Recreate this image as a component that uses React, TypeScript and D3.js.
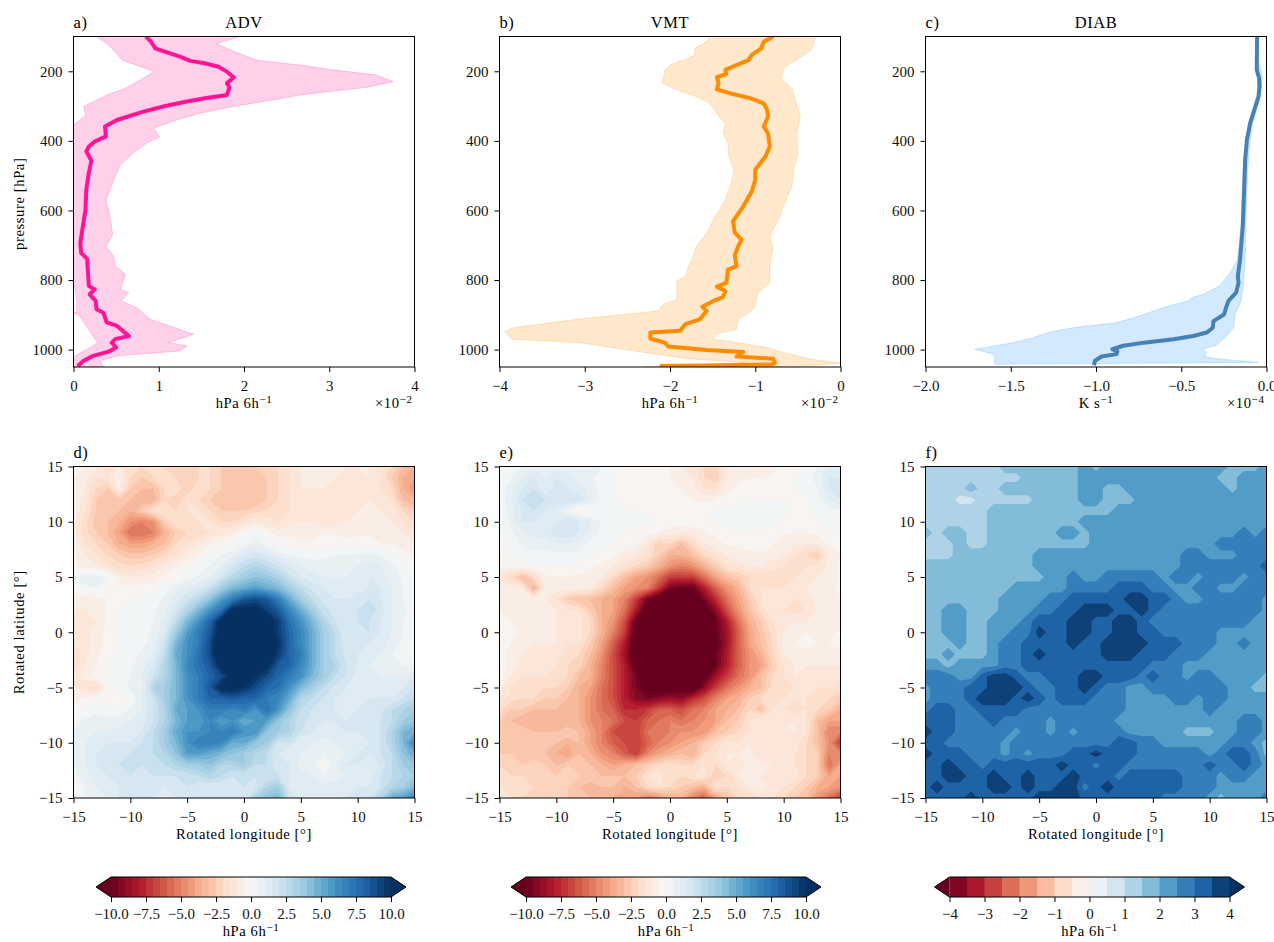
import React, { useRef, useEffect } from 'react';
import * as d3 from 'd3';

const pressureTicks = [200, 400, 600, 800, 1000];
const lonLatTicks = [-15, -10, -5, 0, 5, 10, 15];

const advMean = [[100,.85],[115,.91],[134,.96],[144,1.08],[158,1.25],[170,1.37],[177,1.54],[187,1.70],[201,1.80],[218,1.88],[234,1.80],[246,1.83],[268,1.80],[277,1.56],[287,1.33],[299,1.09],[316,.82],[340,.51],[359,.37],[387,.38],[402,.25],[416,.18],[430,.15],[457,.21],[492,.18],[540,.15],[600,.14],[645,.11],[693,.08],[722,.09],[739,.16],[779,.17],[817,.18],[827,.25],[841,.19],[860,.26],[884,.27],[894,.35],[922,.39],[932,.51],[961,.65],[970,.49],[980,.45],[994,.50],[1006,.41],[1018,.23],[1032,.12],[1047,.05]];
const advHigh = [[100,1.95],[120,1.68],[139,1.84],[168,2.15],[182,2.66],[196,3.05],[211,3.56],[230,3.75],[246,3.44],[268,2.66],[282,2.35],[301,1.88],[320,1.49],[340,1.21],[363,.94],[389,1.01],[406,.86],[435,.70],[469,.55],[502,.49],[569,.38],[607,.42],[669,.46],[703,.38],[731,.47],[760,.49],[784,.61],[827,.55],[836,.65],[860,.56],[879,.74],[913,.90],[956,1.41],[980,1.11],[989,1.33],[1004,1.25],[1018,.51],[1032,.31],[1050,.35]];
const advLow = [[100,.27],[120,.39],[144,.49],[168,.57],[200,.95],[225,.78],[249,.61],[268,.39],[301,.12],[325,.14],[340,.08],[354,0],[400,-.1],[700,-.1],[790,-.02],[827,.02],[860,.04],[893,.04],[894,0],[903,.07],[951,.20],[980,.28],[999,.16],[1018,.02],[1032,0],[1050,-.05]];

const vmtMean = [[100,-.79],[115,-.90],[134,-.93],[153,-1.04],[168,-1.08],[182,-1.22],[196,-1.35],[208,-1.34],[217,-1.45],[234,-1.43],[252,-1.45],[263,-1.30],[277,-1.06],[292,-.90],[311,-.86],[330,-.85],[359,-.90],[378,-.85],[416,-.83],[445,-.88],[483,-1.00],[512,-1.00],[545,-1.04],[588,-1.14],[631,-1.26],[664,-1.24],[684,-1.16],[703,-1.20],[729,-1.24],[760,-1.22],[770,-1.32],[808,-1.34],[819,-1.45],[832,-1.35],[849,-1.38],[860,-1.49],[877,-1.62],[889,-1.57],[913,-1.65],[927,-1.82],[946,-1.88],[951,-2.23],[968,-2.23],[980,-2.06],[991,-2.02],[1001,-1.57],[1007,-1.14],[1020,-1.22],[1026,-.79],[1037,-.77],[1042,-.79],[1045,-1.37],[1047,-2.12]];
const vmtLow = [[100,-1.53],[115,-1.57],[134,-1.71],[153,-1.71],[168,-1.84],[182,-2.0],[196,-2.06],[234,-2.09],[249,-1.96],[273,-1.69],[292,-1.53],[320,-1.45],[354,-1.35],[378,-1.38],[406,-1.32],[445,-1.31],[483,-1.25],[521,-1.28],[569,-1.35],[617,-1.47],[664,-1.57],[703,-1.69],[736,-1.73],[760,-1.78],[789,-1.82],[803,-1.92],[856,-1.92],[870,-2.08],[889,-2.14],[913,-3.10],[937,-3.84],[949,-3.94],[970,-3.85],[980,-3.06],[999,-2.55],[1026,-1.80],[1037,-1.10],[1049,-2.3]];
const vmtHigh = [[100,-.29],[139,-.34],[163,-.49],[187,-.65],[220,-.70],[249,-.57],[282,-.53],[330,-.47],[378,-.51],[435,-.50],[483,-.55],[531,-.57],[588,-.67],[626,-.73],[674,-.83],[707,-.79],[760,-.83],[808,-.83],[836,-.96],[884,-1.02],[913,-1.20],[942,-1.22],[954,-1.45],[970,-1.49],[980,-1.20],[994,-.86],[1008,-.67],[1027,-.36],[1039,0],[1049,-.5]];

const diabMean = [[100,-.055],[177,-.057],[196,-.057],[220,-.043],[244,-.041],[273,-.047],[349,-.096],[397,-.115],[454,-.125],[540,-.131],[645,-.139],[741,-.155],[789,-.168],[808,-.164],[836,-.178],[860,-.223],[879,-.237],[899,-.249],[918,-.311],[937,-.315],[951,-.35],[961,-.43],[970,-.546],[980,-.72],[989,-.84],[999,-.904],[1004,-.875],[1013,-.879],[1020,-.967],[1032,-1.006],[1045,-1.012]];
const diabLow = [[100,-.06],[177,-.065],[220,-.05],[273,-.055],[349,-.105],[454,-.135],[645,-.15],[741,-.17],[779,-.213],[817,-.276],[841,-.37],[849,-.43],[860,-.458],[879,-.605],[908,-.771],[922,-.879],[937,-1.133],[948,-1.254],[965,-1.368],[980,-1.485],[999,-1.71],[1013,-1.603],[1023,-1.593],[1042,-1.593]];
const diabHigh = [[100,-.05],[177,-.043],[206,-.027],[244,-.027],[273,-.037],[349,-.08],[397,-.096],[454,-.106],[540,-.115],[645,-.121],[741,-.125],[808,-.135],[860,-.149],[899,-.184],[937,-.194],[965,-.243],[989,-.301],[999,-.38],[1008,-.35],[1020,-.364],[1026,-.292],[1037,-.047]];

// rows run lat 15 -> -15, columns lon -15 -> 15, every degree
const advField = [
  [-.5,-.5,-.8,-2,-.8, -2,-2,-1.5,-2,-2.5, -2.2,-2,-2,-2.5,-3, -3,-2.5,-2.5,-2,-1.5, -1,-.6,-.5,-.8,-1, -1,-1,-1.2,-2,-3, -3.5],
  [-.5,-.8,-1.5,-1.5,-.5, -2,-2.5,-2,-1.8,-2, -2.5,-2,-2,-2.5,-3, -3,-3,-2.5,-2,-1.5, -1,-.6,-.6,-1,-1.2, -1.2,-1,-1.5,-2.5,-3.5, -4],
  [-.5,-1,-2,-2.5,-.8, -2.5,-3,-3,-2,-1.5, -2.5,-1.5,-2,-2.5,-3, -3,-3,-2.5,-2,-1.5, -1,-1,-1,-1.2,-1.2, -1.2,-1,-1.5,-2,-3.5, -4.5],
  [-.5,-1.2,-2.5,-3,-2.5, -3,-3.5,-3.5,-2,-2.5, -1.5,-2,-2.5,-3,-3, -3,-3,-2.5,-2,-1.5, -1.2,-1.2,-1.2,-1.5,-1.5, -1.2,-1,-1.2,-1.5,-3, -3.5],
  [-.5,-1.5,-2.5,-3,-3, -3.5,-2.5,-1.5,-1.5,-2, -1.5,-1.5,-2,-2.5,-2.5, -2.5,-2.2,-2,-2,-1.5, -1.2,-1.2,-1,-1.5,-1.2, -1,-1,-1,-1.2,-2, -2.5],
  [-.8,-1.8,-2.8,-3,-3.5, -4.5,-5,-4.5,-2.5,-1.5, -2,-1.5,-1.5,-2,-2, -1.5,-1,-1.2,-1.5,-1.2, -1,-1,-1.2,-1.2,-1, -.8,-.8,-1,-1,-1.5, -2],
  [-.8,-1.8,-2.5,-3,-4, -5.5,-5.5,-5,-3.5,-2.5, -2,-1.8,-1.5,-1.2,-.8, -.2,.3,-.3,-.8,-.6, -.8,-.8,-.5,-.5,-.8, -.6,-.6,-.8,-.8,-1, -1.5],
  [-.5,-1.5,-2,-2.5,-3.5, -4,-4,-3.5,-3,-2, -1.5,-1,-.5,-.3,0, .3,.8,.3,-.1,-.3, -.4,-.3,-.3,0,-.2, -.2,-.2,-.5,-.5,-.8, -1],
  [-.4,-1,-1.5,-2,-2.5, -2.8,-2.8,-2.5,-2,-1.5, -.8,-.5,0,.5,.8, 1.5,1.8,1.5,.8,.5, .3,.3,.3,.5,.5, .6,.7,.5,.2,-.3, -.6],
  [-.3,-.8,-1,-1.5,-1.8, -2,-1.8,-1.5,-1,-.5, -.2,.2,.5,1,1.8, 2.5,3,2.5,2,1.5, 1,.8,.8,.8,.8, 1,1.2,1,.6,.2, -.1],
  [.5,1,.8,.5,-.8, -1,-1,-.8,-.4,-.2, .2,.6,1,1.8,2.8, 3.5,4,3.8,3.2,2.2, 1.5,1.2,1,1,1, 1.2,1.5,1.2,.8,.4, 0],
  [-.3,.3,.5,-.2,-.5, -.3,-.2,-.1,.3,.8, 1.2,1.5,2.2,3.5,4.5, 5,5.5,5,4.5,3.5, 2.5,1.8,1.5,1.2,1.2, 1.2,1.5,1.5,1,.5, .2],
  [-.6,-.8,-.8,-.4,-.1, 0,0,.2,.6,1.2, 2,2.8,4,5.5,7, 8.5,9,8.5,7,5, 3.5,2.5,1.8,1.5,1.5, 1.8,2,1.5,1,.5, .2],
  [-1,-1,-1,-.4,0, .1,.1,.4,.8,1.8, 3,4.5,6,7.5,10.5, 10.5,10.5,9.5,8.5,6.5, 5,3.5,2.2,1.8,1.5, 2,2.5,1.8,1,.6, .3],
  [-1.2,-1.2,-1,-.4,0, .2,.2,.5,1.2,2.5, 4.5,6,8,10.5,11, 11,11,11,9.5,7.5, 6,4.5,3,2,1.5, 2,2,1.5,1,.5, .1],
  [-1.2,-1.2,-.8,-.3,0, .2,.3,.6,1.5,3.5, 5.5,7,8.5,11,12, 12,12,11,9.5,8, 6.5,5,3.5,2.5,1.5, 1.5,2,1.5,1,.5, 0],
  [-1.5,-1.2,-.8,-.3,0, .2,.3,.8,2,4.5, 6,7,9,11.5,12, 12,12,11,10,8, 6.5,5,3.5,2.5,1.5, 1.5,1.5,1.2,.8,.4, -.2],
  [-1.8,-1.2,-.6,-.2,.1, .3,.6,1,2.5,5, 6,7.5,9,11.5,12, 12,12,11,9.5,8, 7,5,3.5,2.5,1.8, 1.5,1.2,1,.5,.3, -.1],
  [-2,-1,-.5,0,.2, .4,.8,1.5,3,4.5, 6.5,7.5,8.5,10.5,12, 12,11.5,10.5,8.5,8, 6.5,5,3.5,3,2, 1.5,1,.8,.6,.5, .5],
  [-1.2,-.8,-.3,0,.3, .5,1,2,3,4.5, 6,7,8,9,10.5, 10.5,10,9,8,7, 6,4.5,3.5,2.5,2, 1.2,1,1,1,1, 1.5],
  [-.9,-1.5,-1.8,-.3,.2, .6,.8,3,3.5,4.5, 6,7,8.5,10.5,10.5, 10,9,8,7.5,6, 4.5,3.5,2.5,1.8,1.5, 1,1,1,1.2,1.5, 2],
  [-.8,-.4,-.2,-.2,-.5, 0,1,2,3.5,4.5, 6,7,8,8,8.5, 8,8,7,6.5,5, 3,2.5,2,1.5,1.2, 1.2,1.5,1.5,1.5,2, 2.5],
  [-.2,0,.3,.3,.1, .5,1,2,3,5, 5.5,6,7,7,6.5, 7,6,7.5,6,4, 2.5,2,1.8,1.5,1.2, 1.5,1.8,1.8,2.5,3, 3.5],
  [.2,.6,.8,.6,.8, 1,1.2,2,3,4.5, 5.5,5.5,6.5,5.5,6, 5,5.5,5.5,4,3, 2.2,1.8,1.5,1.5,1.5, 1.5,1.5,2,2.5,3.5, 4],
  [.5,.8,1,1,1.2, 1.2,1.5,2.5,3.5,5, 6,6,6.5,6.5,7, 6,6,4,3.5,3, 2,1.5,1.2,1.2,1.5, 1.5,1.5,2,3,4.5, 5],
  [.5,1,1.2,1.5,1.5, 1.5,2,2.5,3.5,4.5, 6,7,7,6.5,5, 5,4,3.5,2,2, 1,1,.8,1,1.2, 1.2,1.5,2,3,4.5, 6.5],
  [.5,1,1.5,1.8,1.8, 2,2,2.5,3,4, 5.5,5.5,5,4.5,4, 3.5,3,2.5,1.5,1, 1,.5,.5,.8,1, 1.5,1.5,2,2.5,4, 5],
  [.5,1,1.5,1.8,2, 2,2,2.2,2.5,3, 3.5,3.5,4,3,3, 3.5,2.5,2.5,1.5,1.5, .8,.8,-.5,1,1.5, 1.5,1,1.5,2.5,3.5, 4],
  [.3,.8,1.2,1.5,1.8, 2,1.8,2,2,2, 2,2.5,3,2.5,2, 2,2,2,2,1.5, 1.2,1,.5,.8,1, 1,1.2,2,2.5,3, 3.5],
  [-.3,.5,1,1.2,1.5, 1.8,1.5,1.5,1.5,1.5, 2,1.5,1.5,1.5,1.5, 2,1.8,3,3.5,1.5, 1,1,1.2,1.2,1, 1.5,1.5,2,3,3.5, 4.5],
  [.3,.5,.8,1,1.5, 2,1.5,1.5,1.2,1.5, 1.5,1.5,1.5,1.5,2, 1.5,3,4,4.5,2, 1.2,1.5,1.2,1.5,1.5, 2,2,3,5,5.5, 6.5],
];
const vmtField = [
  [.3,.3,.5,.8,.8, .8,.8,.8,1,.5, 0,-.2,-.3,-.3,-.5, -.5,-1,-1.2,-2,-2.2, -.8,-.6,-.6,-1,-.8, -.2,-.1,0,.5,1, 1],
  [.2,.5,1,1.5,1, 1.5,1.2,.8,.6,.3, 0,-.2,-.2,-.3,-.3, -.5,-.8,-1,-2,-2.5, -1,-.6,-.5,-.5,-.4, -.2,0,.2,.8,1.5, 1.5],
  [.1,.8,1.5,2,1, 1.8,1.5,1.2,.8,.3, 0,-.2,-.2,-.2,-.2, -.4,-.5,-.8,-1.5,-1.5, -.6,-.4,-.3,-.3,-.3, -.1,0,.1,.5,1.5, 2],
  [0,1,2,2.5,2, 2,2,1.8,1,.3, .1,-.1,-.2,-.1,-.2, -.3,-.4,-.5,-.6,-.5, -.3,-.2,0,.1,0, 0,-.1,-.1,.3,1, 1.5],
  [0,.8,1.5,2,1.5, 1,.3,-.5,-.3,.1, .2,0,0,-.1,-.2, -.2,-.2,-.2,-.2,0, .2,.3,.3,.3,.2, .1,-.1,-.1,.1,.3, .5],
  [0,.6,1.5,1.5,1.2, 1.5,2,1.5,1,.5, .2,.1,.1,.1,-.1, -.2,-.2,-.1,0,0, .1,.3,.3,.2,.1, -.1,-.3,-.2,0,.1, .2],
  [0,.4,.9,1.2,1.2, 1.8,2,1.5,.8,.3, .1,0,-.1,-.3,-.5, -.8,-1,-1,-.6,-.3, -.1,-.1,-.1,-.1,-.2, -.4,-.5,-.5,-.3,-.1, 0],
  [-.1,.2,.6,.8,.8, 1,1,.8,.4,.1, 0,-.2,-.4,-1,-2.5, -2,-3,-2,-1,-.8, -.4,-.4,-.3,-.3,-.4, -.8,-.8,-1,-1,-.4, 0],
  [-.2,0,.2,.3,.3, .3,.4,.3,.1,-.1, -.3,-.8,-1,-1.5,-2.5, -3.5,-3.5,-3,-2,-1.5, -1,-.8,-.6,-.6,-.8, -1,-1.5,-2,-2.5,-1, -.5],
  [-.3,-.2,-.2,-.1,-.1, 0,-.1,-.2,-.3,-.6, -1,-1.5,-2,-2.5,-3.5, -4.5,-5,-4.5,-3.5,-2.5, -1.5,-1.2,-1,-1,-1.2, -1.5,-2,-1.5,-1.5,-.8, -.4],
  [-1.2,-2,-3,-2,-.6, -.5,-.5,-.6,-.8,-1, -2,-3,-4,-4.5,-5.5, -7,-7,-7,-5.5,-4, -3,-2.5,-2,-2,-2, -2,-1.5,-1.2,-1,-.8, -.4],
  [-.6,-.8,-1,-3.5,-1, -.7,-.8,-.8,-1,-2, -3,-4,-4.5,-5,-7, -9.5,-10,-10,-8,-6, -4.5,-3.5,-2,-1.5,-1.5, -1.5,-1,-1,-.8,-.6, -.4],
  [-.6,-.8,-.8,-.8,-1, -1.5,-2.5,-3,-3,-3.5, -4,-5,-7,-9.5,-11, -11,-11,-11,-9.5,-7.5, -5.5,-4,-2.5,-1.5,-1, -1.2,-1.5,-1.2,-.8,-.6, -.5],
  [-.5,-.6,-.8,-.8,-.8, -1,-1.5,-1.5,-2.5,-3.5, -4,-5.5,-8,-11,-12, -12,-12,-12,-11,-9, -6.5,-4.5,-3,-1.8,-1, -1.5,-1.8,-1.5,-1,-.8, -.8],
  [-.3,-.5,-.6,-.8,-.8, -1,-1.2,-1.2,-2,-3.5, -4.5,-6.5,-10,-12,-13, -13,-13,-12,-11,-10, -8,-5.5,-3.5,-2.5,-1.5, -1.2,-1,-1,-1,-.8, -.8],
  [-.3,-.3,-.6,-.8,-1, -1,-1.2,-1.2,-2,-3.5, -5,-7,-10.5,-13,-14, -14,-14,-13,-11,-10, -8.5,-6,-4,-2.8,-1.8, -1,-.6,-.5,-.6,-.6, -.4],
  [-.3,-.5,-.8,-1,-1, -1,-1.5,-1.5,-2.5,-4, -6,-8,-11,-13,-14, -14,-14,-13,-11,-10.5, -8.5,-6,-4,-3,-2, -.8,-.5,-.4,-.5,-.5, -.3],
  [-.1,-.8,-1,-1.2,-1.2, -1.2,-1.8,-2,-3,-4.5, -6.5,-8.5,-11,-13,-14, -14,-14,-13,-11,-10, -8,-6,-4.5,-3.5,-2, -1,-.6,-.6,-.8,-.8, -.8],
  [0,-.8,-1.2,-1.5,-1.5, -1.5,-2,-2.2,-3.5,-5, -6.5,-8,-10.5,-12,-14, -14,-14,-12.5,-10.5,-10, -8,-6,-4.5,-4,-2.5, -1.5,-1,-1,-1,-1, -1],
  [-.3,-1,-1.5,-1.5,-1.5, -2,-2,-3,-3.5,-5, -6.5,-8,-9.5,-11,-12, -13,-12,-11,-10.5,-8.5, -7,-5.5,-4.5,-3,-2, -1.5,-1,-1.2,-1.2,-1.2, -1.2],
  [-.8,-1.5,-1.8,-2,-2, -2,-2.5,-3.5,-4,-5.5, -6.5,-8,-9.5,-11,-11.5, -11,-10.5,-11,-9,-7, -5.5,-4.5,-3.5,-3,-1.8, -2,-1.5,-1.5,-1.5,-1.5, -1.8],
  [-1,-1.8,-2,-2,-2.5, -2.5,-3,-3.5,-4.5,-5.5, -6.5,-8,-9,-9.5,-9, -8.5,-9,-7.5,-6.5,-5, -4,-3.5,-2.5,-2,-2, -1.5,-1.5,-1.5,-1.8,-2, -2.5],
  [-1.8,-2.5,-2.5,-3,-3, -3,-3.5,-3.5,-4.5,-5.5, -6,-7.5,-7.5,-7,-6, -6,-6.5,-5.5,-5,-4, -3.5,-3,-2,-3,-1.5, -1.5,-1.8,-1.5,-2,-2.5, -3.5],
  [-2.5,-3,-3.5,-3.5,-3.5, -3.5,-3.5,-3.5,-4.5,-5, -5.5,-6.5,-7,-6,-5.5, -5,-5.5,-5,-4.5,-4, -3,-2.5,-1.5,-1,-1.5, -1.2,-1,-1.5,-3,-4, -4],
  [-3,-3,-2.5,-3,-3, -3,-2.5,-3,-4,-5, -6.5,-7,-7,-5.5,-5.5, -5,-4.5,-4.5,-4.5,-3, -2.5,-2,-1.5,-1.5,-1, -1,-1,-1.5,-3,-5, -5],
  [-3,-3,-3,-2.5,-2.5, -3,-3.5,-3,-4,-5, -6,-6.5,-7,-6,-5, -4.5,-4,-3.5,-2.5,-2, -1.2,-1.5,-1,-1.5,-1.5, -1.5,-1.2,-2,-3,-4.5, -7],
  [-2.5,-2.5,-3,-3,-3, -3.5,-4,-3,-3.5,-4.5, -5,-6,-7,-5,-4, -3.5,-3,-3.5,-2,-1.5, -1,-1,-.8,-1.5,-1.5, -1.5,-1.5,-2,-2.5,-5, -5],
  [-2,-2.5,-2.5,-2,-2.5, -3,-2.5,-3,-3,-3.5, -4,-3.5,-3,-2.5,-2, -1.5,-2,-2,-1.5,-2, -1,-1.5,-.6,-1,-1, -1.5,-1.5,-2,-2.5,-5.5, -4],
  [-1.8,-2,-2,-2.5,-2.5, -2.5,-2.5,-2.5,-2.5,-3, -3,-3,-2.5,-1.5,-1, -2,-2,-1.5,-1.2,-2.5, -2,-1,-1,-1,-1.2, -1.2,-1.2,-2,-2.5,-4, -4],
  [-1.5,-1.8,-2,-2,-2.5, -2.5,-2.5,-3,-3.5,-3, -3,-3.5,-3,-2,-1.5, -2,-2.5,-3,-3.5,-1.5, -2,-1.5,-1,-.8,-1.2, -1.5,-2,-2.5,-3.5,-4, -4.5],
  [-1.5,-1.5,-2,-2.5,-2.5, -2.5,-2.5,-3,-3,-3.5, -3.5,-4,-4,-5,-4.5, -3.5,-3.5,-5,-6,-4, -3,-2,-2,-1.5,-1.5, -2,-2.5,-3,-4.5,-5.5, -7],
];
const diabField = [
  [1.3,1.3,1.3,1.3,1.3, 1.3,1.3,1.8,1.8,1.8, 1.8,1.8,1.8,1.8,2.3, 1.8,2.3,2.3,2.3,2.3, 2.3,2.3,2.3,2.3,2.3, 2.3,2.3,1.8,1.8,1.8, 2.3],
  [1.3,1.3,1.3,1.3,1.3, 1.3,1.3,1.3,1.3,1.8, 1.8,1.8,1.8,1.8,2.3, 2.3,2.3,2.3,2.3,2.3, 2.3,2.3,2.3,2.3,2.3, 2.3,1.8,1.8,2.3,2.3, 2.3],
  [1.3,1.3,1.3,1.3,1.8, 1.3,1.3,1.8,1.8,1.8, 1.8,1.8,1.8,1.8,2.3, 2.3,1.8,1.8,2.3,2.3, 2.3,2.3,2.3,2.3,2.3, 2.3,2.3,1.8,2.3,2.3, 2.3],
  [1.3,1.3,1.3,.8,.8, 1.3,1.3,1.3,1.3,1.3, 1.8,1.8,1.8,1.8,2.3, 2.3,1.8,1.8,1.8,2.3, 2.3,2.3,2.3,2.3,2.3, 2.3,2.3,2.3,2.3,2.3, 2.3],
  [1.3,1.3,1.3,1.3,1.3, 1.3,1.8,1.8,1.8,1.8, 1.8,1.8,1.8,1.8,1.8, 1.8,1.8,2.3,2.3,2.3, 2.3,2.3,2.3,2.3,2.3, 2.3,2.3,2.3,2.3,2.3, 2.3],
  [1.3,1.3,1.3,1.3,1.3, 1.3,1.8,1.8,1.8,1.8, 1.8,1.8,1.8,1.8,2.3, 2.3,2.3,2.3,2.3,2.3, 2.3,2.3,2.3,2.3,2.3, 2.3,2.3,2.3,2.3,2.3, 2.3],
  [1.8,1.3,1.8,1.8,1.3, 1.3,1.8,1.8,1.8,1.8, 1.8,1.8,2.3,2.3,1.8, 2.3,2.3,2.3,2.3,2.3, 2.3,2.3,2.3,2.3,2.3, 2.3,2.3,2.3,2.8,2.3, 2.8],
  [1.3,1.3,1.3,1.8,1.3, 1.3,1.8,1.8,1.8,1.8, 1.8,1.8,1.8,1.8,1.8, 2.3,2.3,2.3,2.3,2.3, 2.3,2.3,2.3,2.3,2.3, 2.3,2.8,2.8,2.8,2.8, 2.8],
  [1.3,1.3,1.3,1.8,1.8, 1.8,1.8,1.8,1.8,1.8, 2.3,2.3,2.3,2.3,2.3, 2.3,2.3,2.3,2.3,2.3, 2.3,2.3,2.3,2.8,2.8, 2.3,2.3,2.3,2.8,2.8, 2.8],
  [1.8,1.8,1.8,1.8,1.8, 1.8,1.8,1.8,1.8,1.8, 2.3,2.3,2.3,2.3,2.3, 2.3,2.3,2.3,2.3,2.3, 2.3,2.3,2.3,2.8,2.8, 2.8,2.8,2.8,2.8,2.8, 3.3],
  [1.8,1.8,1.8,1.8,1.8, 1.8,1.8,1.8,1.8,1.8, 1.8,2.3,2.3,2.8,2.3, 2.3,2.8,2.8,2.8,2.8, 2.8,2.3,2.8,2.8,2.3, 2.8,2.8,2.8,2.3,2.8, 2.8],
  [1.8,1.8,1.8,1.8,1.8, 1.8,1.8,1.8,2.3,2.3, 2.3,2.3,2.3,2.8,2.8, 2.8,2.8,3.3,3.3,3.3, 2.8,2.8,2.3,2.3,2.8, 2.8,2.3,2.3,2.8,2.8, 2.8],
  [1.8,1.8,1.8,1.8,1.8, 1.8,1.8,2.3,2.3,2.3, 2.3,2.8,2.8,3.3,3.3, 3.3,3.3,3.3,3.8,3.8, 3.3,3.3,2.8,2.3,2.3, 2.8,2.8,2.8,2.8,2.8, 2.3],
  [1.8,1.8,2.3,2.3,1.8, 1.8,1.8,2.3,2.3,2.3, 2.8,2.8,3.3,3.3,3.8, 3.8,3.8,3.3,3.3,3.8, 3.3,2.8,2.8,2.8,2.8, 2.8,2.8,2.8,2.8,2.8, 2.3],
  [1.8,1.8,2.3,2.3,1.8, 1.8,2.3,2.3,2.3,2.8, 3.3,3.3,3.3,3.8,3.8, 3.3,3.3,3.8,3.8,3.3, 2.8,2.8,2.8,2.8,2.8, 2.8,2.8,2.8,2.8,2.3, 2.3],
  [1.8,1.8,2.3,2.3,1.8, 1.8,2.3,2.3,2.8,2.8, 3.8,3.3,3.3,3.8,3.8, 3.3,3.3,3.8,3.8,3.3, 3.3,2.8,2.8,2.8,2.8, 2.8,2.3,2.3,2.3,2.3, 2.3],
  [1.8,1.8,1.8,2.3,1.8, 1.8,2.3,2.8,2.8,3.3, 3.3,3.3,3.3,3.8,3.3, 3.3,3.8,3.8,3.8,3.8, 3.3,3.3,3.3,2.8,2.8, 2.8,2.3,2.3,2.8,2.3, 2.3],
  [1.8,1.8,2.3,1.8,1.8, 1.8,2.3,2.8,2.8,3.3, 3.8,3.3,3.3,3.3,3.3, 3.3,3.8,3.8,3.8,3.3, 3.3,3.3,2.8,2.8,2.8, 2.3,2.3,2.3,2.3,2.3, 2.3],
  [2.3,2.3,1.8,2.3,2.3, 2.3,2.3,2.8,2.8,3.3, 3.3,3.3,3.3,3.3,3.3, 3.3,3.3,3.3,3.3,3.3, 2.8,2.8,2.8,2.3,2.3, 2.3,2.3,2.3,2.3,2.3, 2.3],
  [2.8,2.8,2.8,2.3,2.3, 3.3,3.8,3.8,3.3,2.8, 2.8,3.3,3.3,3.3,3.8, 3.8,3.3,3.3,3.3,2.8, 3.3,2.8,2.8,2.3,2.8, 2.8,2.3,2.3,2.3,2.3, 1.8],
  [2.3,2.8,2.8,2.8,3.3, 3.3,3.8,3.8,3.8,3.3, 2.8,2.8,3.3,3.3,3.8, 3.3,2.8,2.8,2.3,2.3, 2.8,2.8,2.8,2.8,2.8, 2.8,2.8,2.3,2.3,1.8, 1.8],
  [2.3,2.8,2.8,2.8,3.3, 3.8,3.8,3.8,3.3,3.8, 3.3,2.8,3.3,3.3,3.3, 2.8,2.8,2.8,2.3,2.3, 2.3,2.3,2.8,2.8,2.3, 2.8,2.8,2.3,2.3,2.3, 2.3],
  [2.8,3.3,3.3,2.8,2.8, 3.3,3.3,3.3,3.3,2.8, 2.8,2.8,2.8,2.8,2.8, 2.8,2.8,2.8,2.3,2.3, 2.3,2.3,2.3,2.3,2.3, 2.8,2.3,2.3,2.3,2.3, 2.3],
  [3.3,3.3,3.3,2.8,2.8, 2.8,3.3,2.8,2.8,2.8, 2.8,2.3,2.8,2.8,2.8, 2.8,2.8,2.3,2.3,2.3, 2.3,2.3,2.3,2.3,2.3, 2.3,2.3,2.3,2.8,2.8, 2.3],
  [3.8,3.3,3.3,2.8,2.8, 2.8,2.8,2.8,2.3,2.8, 2.8,2.3,2.8,2.3,2.8, 2.8,2.8,2.8,2.3,2.3, 2.3,2.3,2.3,1.8,1.8, 1.8,2.3,2.3,2.8,2.8, 2.3],
  [3.3,3.3,2.8,2.8,2.8, 2.8,2.8,2.3,2.8,2.8, 2.8,2.8,2.8,2.8,2.8, 2.8,2.8,3.3,3.3,2.8, 2.8,2.3,2.3,2.3,2.3, 2.3,2.3,2.8,2.8,2.3, 1.8],
  [3.8,3.3,3.3,3.3,2.8, 2.8,2.8,2.3,2.8,2.3, 2.8,2.8,2.8,3.3,3.3, 3.8,3.3,3.3,3.3,2.8, 2.8,2.8,2.8,2.8,2.8, 2.3,2.8,3.3,3.3,2.8, 1.8],
  [3.3,3.3,3.8,3.3,3.3, 2.8,3.3,3.3,3.3,3.3, 3.3,3.3,3.8,3.3,3.3, 2.8,3.3,3.3,2.8,2.8, 2.8,2.8,2.8,2.8,2.8, 3.3,2.8,2.8,3.3,2.8, 2.3],
  [3.3,3.3,3.8,3.8,3.3, 3.3,3.8,3.3,3.3,3.8, 3.3,3.3,3.3,3.8,3.3, 3.3,3.3,2.8,3.3,3.3, 3.3,3.3,3.3,2.8,2.8, 2.8,2.3,2.8,2.8,2.3, 2.3],
  [3.3,3.8,3.3,3.3,3.3, 3.3,3.8,3.8,3.3,3.8, 3.3,3.3,3.8,3.8,2.8, 3.3,3.8,3.3,3.3,3.3, 3.3,3.3,3.3,2.8,2.8, 2.8,2.3,2.3,2.3,2.3, 2.3],
  [3.3,3.3,3.3,3.3,3.8, 3.3,3.3,3.3,3.3,3.3, 3.8,3.8,3.8,3.8,3.3, 3.3,3.3,3.3,3.3,3.3, 3.3,2.8,2.8,2.8,2.8, 2.3,1.8,2.3,2.3,2.3, 2.8],
];

const fieldLevels = d3.range(-10, 10.25, 0.5);
const diabLevels = d3.range(-4, 4.25, 0.5);
const fieldTicks = [-10, -7.5, -5, -2.5, 0, 2.5, 5, 7.5, 10];
const diabTicks = [-4, -3, -2, -1, 0, 1, 2, 3, 4];

const FONT = '"Liberation Serif", serif';
const rdBu = d3.piecewise(d3.interpolateRgb, [...d3.schemeRdBu[11]]);

const minus = (s: string) => s.replace('-', '\u2212');

// text with an optional raised part, for the units
function label(g: any, x: number, y: number, base: string, sup: string, anchor = 'middle', size = 14.6) {
  const t = g.append('text').attr('x', x).attr('y', y)
    .attr('text-anchor', anchor).attr('font-size', size).attr('letter-spacing', 0.6);
  t.append('tspan').text(base);
  if (sup) t.append('tspan').attr('dy', -5).attr('font-size', 11).text(sup);
}

function styleAxis(a: any) {
  a.selectAll('.domain').remove();
  a.selectAll('line').attr('stroke', '#000').attr('stroke-width', 1);
  a.selectAll('text').attr('font-family', FONT).attr('font-size', 15).attr('fill', '#111');
}

function drawProfile(svg: any, o: any) {
  const { left, top, w, h, domain, ticks, fmt, mean, low, high, color, fill, title, tag, unit, power, yLabel, id } = o;
  const x = d3.scaleLinear().domain(domain).range([left, left + w]);
  const y = d3.scaleLinear().domain([100, 1050]).range([top, top + h]);
  const line = d3.line().x((d: any) => x(d[1])).y((d: any) => y(d[0]));

  svg.append('clipPath').attr('id', id).append('rect').attr('x', left).attr('y', top).attr('width', w).attr('height', h);
  const g = svg.append('g').attr('clip-path', `url(#${id})`);
  g.append('path').attr('d', line([...high, ...[...low].reverse()] as any) + 'Z')
    .attr('fill', fill).attr('fill-opacity', 0.2).attr('stroke', fill).attr('stroke-opacity', 0.2);
  g.append('path').attr('d', line(mean as any)).attr('fill', 'none').attr('stroke', color)
    .attr('stroke-width', 4).attr('stroke-linejoin', 'round');

  svg.append('g').attr('transform', `translate(0,${top + h})`)
    .call(d3.axisBottom(x).tickValues(ticks).tickFormat((d: any) => minus(fmt(d))).tickSize(5).tickPadding(8)).call(styleAxis);
  svg.append('g').attr('transform', `translate(${left},0)`)
    .call(d3.axisLeft(y).tickValues(pressureTicks).tickFormat(d3.format('d')).tickSize(5).tickPadding(6)).call(styleAxis);
  svg.append('rect').attr('x', left).attr('y', top).attr('width', w).attr('height', h)
    .attr('fill', 'none').attr('stroke', '#000').attr('stroke-width', 1);

  label(svg, left, top - 9, tag, '', 'start', 16.5);
  label(svg, left + w / 2, top - 9, title, '', 'middle', 16.5);
  label(svg, left + w / 2, top + h + 41, unit[0], unit[1]);
  label(svg, left + w - 2, top + h + 41, '\u00d710', power, 'end');
  if (yLabel) {
    svg.append('text').attr('transform', `translate(24,${top + h / 2 + 2}) rotate(-90)`)
      .attr('text-anchor', 'middle').attr('font-size', 14.6).attr('letter-spacing', 0.6).text(yLabel);
  }
}

function drawField(svg: any, o: any) {
  const { left, top, w, h, field, levels, tag, yLabel, id } = o;
  const n = field.length;
  const lon = d3.scaleLinear().domain([-15, 15]).range([left, left + w]);
  const lat = d3.scaleLinear().domain([-15, 15]).range([top + h, top]);
  const gridX = d3.scaleLinear().domain([0.5, n - 0.5]).range([left, left + w]);
  const gridY = d3.scaleLinear().domain([0.5, n - 0.5]).range([top, top + h]);
  const path = d3.geoPath(d3.geoTransform({
    point(px: number, py: number) { (this as any).stream.point(gridX(px), gridY(py)); },
  }));
  const norm = d3.scaleLinear().domain([levels[0], levels[levels.length - 1]]).range([0, 1]);
  const step = levels[1] - levels[0];
  const contours = d3.contours().size([n, n]).thresholds(levels)(field.flat());

  svg.append('clipPath').attr('id', id).append('rect').attr('x', left).attr('y', top).attr('width', w).attr('height', h);
  const g = svg.append('g').attr('clip-path', `url(#${id})`);
  g.append('rect').attr('x', left).attr('y', top).attr('width', w).attr('height', h).attr('fill', rdBu(0));
  g.selectAll('path').data(contours).join('path')
    .attr('d', (c: any) => path(c))
    .attr('fill', (c: any) => (c.value >= levels[levels.length - 1] ? rdBu(1) : rdBu(norm(c.value + step / 2))));

  svg.append('g').attr('transform', `translate(0,${top + h})`)
    .call(d3.axisBottom(lon).tickValues(lonLatTicks).tickFormat((d: any) => minus(String(d))).tickSize(5).tickPadding(8)).call(styleAxis);
  svg.append('g').attr('transform', `translate(${left},0)`)
    .call(d3.axisLeft(lat).tickValues(lonLatTicks).tickFormat((d: any) => minus(String(d))).tickSize(5).tickPadding(6)).call(styleAxis);
  svg.append('rect').attr('x', left).attr('y', top).attr('width', w).attr('height', h)
    .attr('fill', 'none').attr('stroke', '#000').attr('stroke-width', 1);

  label(svg, left, top - 9, tag, '', 'start', 16.5);
  label(svg, left + w / 2, top + h + 41, 'Rotated longitude [\u00b0]', '');
  if (yLabel) {
    svg.append('text').attr('transform', `translate(24,${top + h / 2}) rotate(-90)`)
      .attr('text-anchor', 'middle').attr('font-size', 14.6).attr('letter-spacing', 0.6).text(yLabel);
  }
}

function drawColorbar(svg: any, o: any) {
  const { left, w, levels, ticks, fmt } = o;
  const top = 877;
  const h = 20;
  const tip = 15;
  const x = d3.scaleLinear().domain([levels[0], levels[levels.length - 1]]).range([left, left + w]);
  const norm = d3.scaleLinear().domain(x.domain()).range([0, 1]);
  const bands = levels.slice(0, -1);
  const step = levels[1] - levels[0];
  svg.append('g').selectAll('rect').data(bands).join('rect')
    .attr('x', (d: number) => x(d)).attr('y', top)
    .attr('width', (d: number) => x(d + step) - x(d) + 0.5).attr('height', h)
    .attr('fill', (d: number) => rdBu(norm(d + step / 2)));
  svg.append('path').attr('d', `M${left},${top}L${left - tip},${top + h / 2}L${left},${top + h}Z`).attr('fill', rdBu(0));
  svg.append('path').attr('d', `M${left + w},${top}L${left + w + tip},${top + h / 2}L${left + w},${top + h}Z`).attr('fill', rdBu(1));
  svg.append('path')
    .attr('d', `M${left},${top}L${left + w},${top}L${left + w + tip},${top + h / 2}L${left + w},${top + h}L${left},${top + h}L${left - tip},${top + h / 2}Z`)
    .attr('fill', 'none').attr('stroke', '#000').attr('stroke-width', 1);
  svg.append('g').attr('transform', `translate(0,${top + h})`)
    .call(d3.axisBottom(x).tickValues(ticks).tickFormat((d: any) => minus(fmt(d))).tickSize(5).tickPadding(6)).call(styleAxis);
  label(svg, left + w / 2, 936, 'hPa 6h', '\u22121');
}

export default function App() {
  const svgRef = useRef<SVGSVGElement>(null);

  useEffect(() => {
    const svg = d3.select(svgRef.current);
    svg.selectAll('*').remove();
    const topRow = { top: 36.5, w: 341, h: 330.5 };
    const lowRow = { top: 466.5, w: 341, h: 331.5 };
    const unit6h = ['hPa 6h', '\u22121'];

    drawProfile(svg, { ...topRow, id: 'ca', left: 73.5, domain: [0, 4], ticks: [0, 1, 2, 3, 4], fmt: d3.format('d'),
      mean: advMean, low: advLow, high: advHigh, color: '#ff1493', fill: '#ff1493', title: 'ADV', tag: 'a)',
      unit: unit6h, power: '\u22122', yLabel: 'pressure [hPa]' });
    drawProfile(svg, { ...topRow, id: 'cb', left: 499.5, domain: [-4, 0], ticks: [-4, -3, -2, -1, 0], fmt: d3.format('d'),
      mean: vmtMean, low: vmtLow, high: vmtHigh, color: '#ff8c00', fill: '#ff8c00', title: 'VMT', tag: 'b)',
      unit: unit6h, power: '\u22122' });
    drawProfile(svg, { ...topRow, id: 'cc', left: 925.5, domain: [-2, 0], ticks: [-2, -1.5, -1, -0.5, 0], fmt: d3.format('.1f'),
      mean: diabMean, low: diabLow, high: diabHigh, color: '#4682b4', fill: '#1e90ff', title: 'DIAB', tag: 'c)',
      unit: ['K s', '\u22121'], power: '\u22124' });

    drawField(svg, { ...lowRow, id: 'cd', left: 73.5, field: advField, levels: fieldLevels, tag: 'd)', yLabel: 'Rotated latitude [\u00b0]' });
    drawField(svg, { ...lowRow, id: 'ce', left: 499.5, field: vmtField, levels: fieldLevels, tag: 'e)' });
    drawField(svg, { ...lowRow, id: 'cf', left: 925.5, field: diabField, levels: diabLevels, tag: 'f)' });

    drawColorbar(svg, { left: 111, w: 280, levels: fieldLevels, ticks: fieldTicks, fmt: d3.format('.1f') });
    drawColorbar(svg, { left: 526, w: 280, levels: fieldLevels, ticks: fieldTicks, fmt: d3.format('.1f') });
    drawColorbar(svg, { left: 949.5, w: 280, levels: diabLevels, ticks: diabTicks, fmt: d3.format('d') });
  }, []);

  return (
    <svg ref={svgRef} width={1274} height={942}
      style={{ position: 'absolute', left: 0, top: 0, background: '#fff', fontFamily: FONT }} />
  );
}
